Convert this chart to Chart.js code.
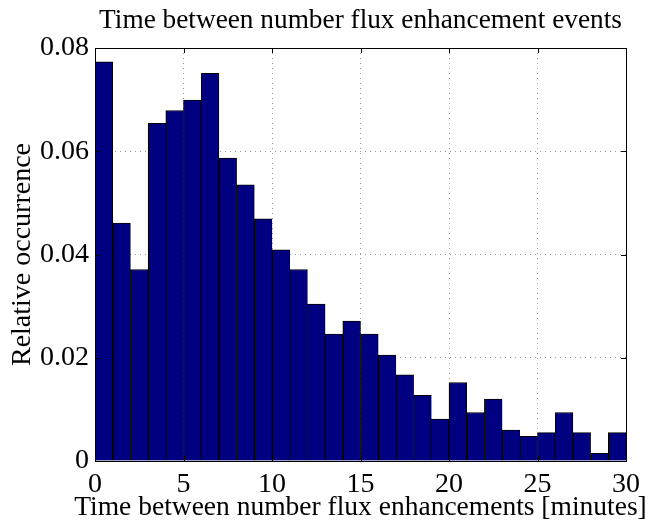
<!DOCTYPE html>
<html>
<head>
<meta charset="utf-8">
<script src="https://cdn.jsdelivr.net/npm/chart.js@4.4.1/dist/chart.umd.min.js"></script>
<style>
  html, body { margin: 0; padding: 0; background: #fff; }
  #wrap { width: 650px; height: 521px; }
</style>
</head>
<body>
<div id="wrap"><canvas id="histChart" width="650" height="521"></canvas></div>
<script>
// bin centres [minutes] and relative occurrence per 1-minute bin
const binCenters = [0.5, 1.5, 2.5, 3.5, 4.5, 5.5, 6.5, 7.5, 8.5, 9.5, 10.5, 11.5, 12.5, 13.5, 14.5,
  15.5, 16.5, 17.5, 18.5, 19.5, 20.5, 21.5, 22.5, 23.5, 24.5, 25.5, 26.5, 27.5, 28.5, 29.5];
const occurrence = [0.0773, 0.0461, 0.0371, 0.0654, 0.0679, 0.0699, 0.0751, 0.0587, 0.0535, 0.0469,
  0.0409, 0.0371, 0.0304, 0.0246, 0.0271, 0.0246, 0.0205, 0.0167, 0.0127, 0.0081,
  0.0152, 0.0094, 0.0120, 0.0060, 0.0048, 0.0055, 0.0094, 0.0055, 0.0015, 0.0055];
const xTicks = [0, 5, 10, 15, 20, 25, 30];
const yTicks = [0, 0.02, 0.04, 0.06, 0.08];

const titleText = "Time between number flux enhancement events";
const xTitle = "Time between number flux enhancements [minutes]";
const yTitle = "Relative occurrence";
const serif = "'Liberation Serif', 'Times New Roman', serif";

// plot frame, inward ticks (matlab look), title and x label
// (x label is wider than the plot, so chart.js would squeeze it)
const framePlugin = {
  id: "frame",
  afterDraw(chart) {
    const { ctx, chartArea: a, scales } = chart;
    ctx.save();
    ctx.strokeStyle = "#000";
    ctx.lineWidth = 1;
    ctx.strokeRect(a.left + 0.5, a.top + 0.5, a.right - a.left, a.bottom - a.top);
    ctx.beginPath();
    xTicks.forEach((v) => {
      const px = Math.round(scales.x.getPixelForValue(v)) + 0.5;
      ctx.moveTo(px, a.bottom); ctx.lineTo(px, a.bottom - 5);
      ctx.moveTo(px, a.top); ctx.lineTo(px, a.top + 5);
    });
    yTicks.forEach((v) => {
      const py = Math.round(scales.y.getPixelForValue(v)) + 0.5;
      ctx.moveTo(a.left, py); ctx.lineTo(a.left + 5, py);
      ctx.moveTo(a.right, py); ctx.lineTo(a.right - 5, py);
    });
    ctx.stroke();
    const mid = (a.left + a.right) / 2;
    ctx.fillStyle = "#000";
    ctx.textAlign = "center";
    ctx.textBaseline = "alphabetic";
    ctx.font = `27.3px ${serif}`;
    ctx.fillText(titleText, mid, 28);
    ctx.font = `27.5px ${serif}`;
    ctx.fillText(xTitle, mid, 515);
    ctx.restore();
  }
};

new Chart(document.getElementById("histChart"), {
  type: "bar",
  data: {
    datasets: [{
      label: "occurrence",
      data: binCenters.map((x, i) => ({ x, y: occurrence[i] })),
      backgroundColor: "#000080",
      borderColor: "#000000",
      borderWidth: 1,
      barPercentage: 1,
      categoryPercentage: 1
    }]
  },
  options: {
    responsive: false,
    animation: false,
    layout: { padding: { top: 48, right: 24, left: 0, bottom: 0 } },
    plugins: { legend: { display: false }, tooltip: { enabled: false } },
    scales: {
      x: {
        type: "linear",
        min: 0,
        max: 30,
        offset: false,
        afterFit: (s) => { s.height = 60; },
        afterBuildTicks: (s) => { s.ticks = xTicks.map((value) => ({ value })); },
        grid: { color: "#9a9a9a", drawTicks: false, offset: false },
        border: { display: false, dash: [1, 4] },
        ticks: { color: "#000", padding: 7, maxRotation: 0, font: { family: serif, size: 28 } },
        title: { display: false }
      },
      y: {
        min: 0,
        max: 0.08,
        afterFit: (s) => { s.width = 95; },
        afterBuildTicks: (s) => { s.ticks = yTicks.map((value) => ({ value })); },
        grid: { color: "#9a9a9a", drawTicks: false },
        border: { display: false, dash: [1, 4] },
        ticks: { color: "#000", padding: 6, font: { family: serif, size: 28 }, callback: (v) => (v === 0 ? "0" : v.toFixed(2)) },
        title: { display: true, text: yTitle, color: "#000", padding: { top: 6 }, font: { family: serif, size: 28, lineHeight: 1.2 } }
      }
    }
  },
  plugins: [framePlugin]
});
</script>
</body>
</html>
